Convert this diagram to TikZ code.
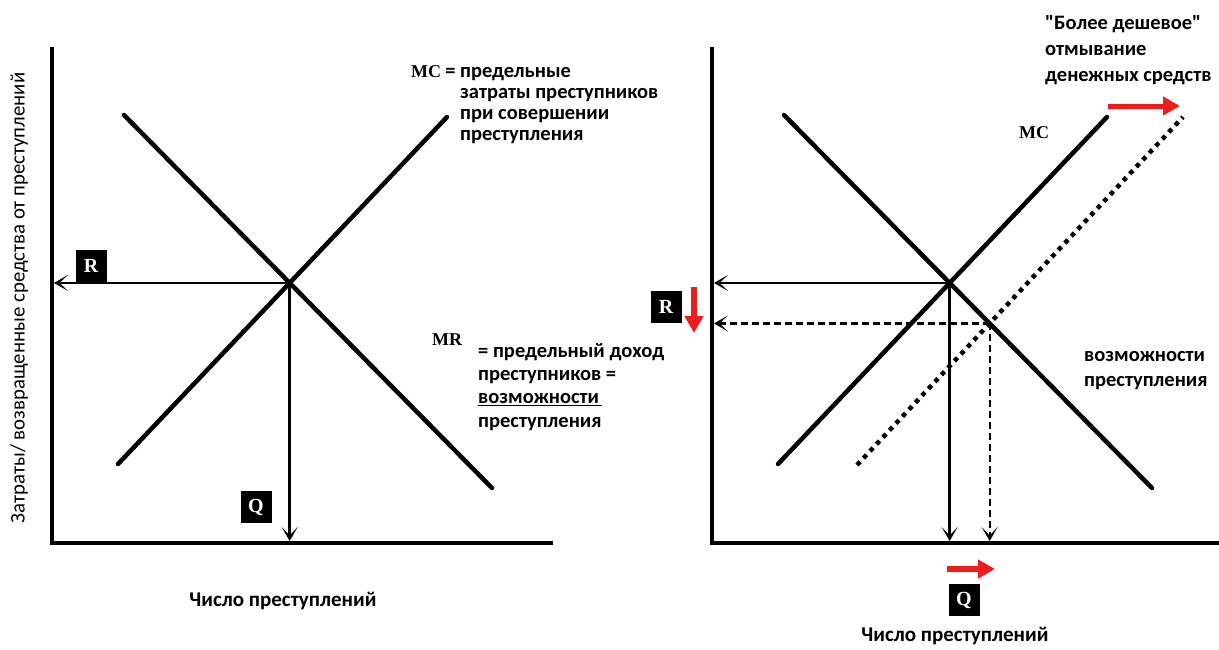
\documentclass[tikz,border=0pt]{standalone}
\usepackage{fontspec}
\setmainfont{Carlito}[Ligatures=TeXOff]
\newfontfamily\curvefont{Liberation Serif}
\usetikzlibrary{positioning, calc, arrows.meta}
\definecolor{shift_red}{HTML}{EE1C1C}

\begin{document}
\begin{tikzpicture}[
    x=1pt, y=-1pt,
    >={Stealth[length=14pt,width=16pt,inset=8.5pt]},
    font=\bfseries\fontsize{21}{21}\selectfont,
    axis/.style={line width=4pt, line join=miter},
    curve/.style={line width=4.5pt, line cap=round},
    shifted/.style={line width=4.5pt, dash pattern=on 4.5pt off 5pt},
    guide/.style={->, line width=2.8pt, shorten >=2pt},
    guide_new/.style={guide, line width=2.4pt, dash pattern=on 7pt off 4pt},
    shift_arrow/.style={draw=shift_red, line width=#1, -{Triangle[length=17pt,width=18pt]}},
    letter/.style={
        fill=black, text=white,
        inner sep=0pt,
        minimum width=31pt, minimum height=32pt,
        font=\curvefont\bfseries\fontsize{20}{20}\selectfont
    },
    curve_label/.style={inner sep=0pt, font=\curvefont\bfseries\fontsize{18}{18}\selectfont},
    note/.style={anchor=base west, align=left, inner sep=0pt},
    axis_label/.style={inner sep=0pt}
]

\useasboundingbox (0,0) rectangle (1219,649);

% left panel
\coordinate (Y1) at (52,47);
\coordinate (O1) at (52,543);
\coordinate (X1) at (553,543);
\coordinate (MRa1) at (124,115);
\coordinate (MRb1) at (492,488);
\coordinate (MCa1) at (118,464);
\coordinate (MCb1) at (447,117);

\draw[axis] (Y1) -- (O1) -- (X1);
\draw[curve] (MRa1) -- (MRb1);
\draw[curve] (MCa1) -- (MCb1);

\coordinate (E1) at (intersection of MRa1--MRb1 and MCa1--MCb1);
\draw[guide] (E1) -- (O1 |- E1);
\draw[guide] (E1) -- (E1 |- O1);

\node[letter] (R1) at (91,266) {R};
\node[letter] (Q1) at (256,507) {Q};

% multi-line notes sit on the baseline of their last line
\node[curve_label] (MC1) at (426,72) {MC};
\node[note, font=\bfseries\fontsize{20.5}{21}\selectfont] (MCtext1) at (460,140) {\llap{= }предельные\\затраты преступников\\при совершении\\преступления};
\node[curve_label] (MR1) at (447,340) {MR};
\node[note, font=\bfseries\fontsize{20.5}{23.3}\selectfont] (MRtext1) at (478,427) {= предельный доход\\преступников =\\\underline{возможности\,}\\преступления};

\node[axis_label, font=\fontsize{20.8}{20.8}\selectfont, rotate=90] (Ylab) at (19,298) {Затраты/ возвращенные средства от преступлений};
\node[axis_label] (Xlab1) at (283,601) {Число преступлений};

% right panel
\coordinate (Y2) at (712,47);
\coordinate (O2) at (712,543);
\coordinate (X2) at (1219,543);
\coordinate (MRa2) at (784,115);
\coordinate (MRb2) at (1152,488);
\coordinate (MCa2) at (778,464);
\coordinate (MCb2) at (1107,117);
\coordinate (Sa2) at (857,465);
\coordinate (Sb2) at (1183,117);

\draw[axis] (Y2) -- (O2) -- (X2);
\draw[curve] (MRa2) -- (MRb2);
\draw[curve] (MCa2) -- (MCb2);
\draw[shifted] (Sa2) -- (Sb2);

\coordinate (E2) at (intersection of MRa2--MRb2 and MCa2--MCb2);
\coordinate (F2) at (intersection of MRa2--MRb2 and Sa2--Sb2);
\draw[guide] (E2) -- (O2 |- E2);
\draw[guide, line width=3.4pt] (E2) -- (E2 |- O2);
\draw[guide_new] (F2) -- (O2 |- F2);
\draw[guide_new, line width=2pt] (F2) -- (F2 |- O2);

\node[letter] (R2) at (666,307) {R};
\node[letter] (Q2) at (964,600) {Q};

\coordinate (RSa) at (694,287);
\coordinate (RSb) at (694,333);
\coordinate (QSa) at (947,569);
\coordinate (QSb) at (995,569);
\coordinate (MSa) at (1108,106);
\coordinate (MSb) at (1180,106);
\draw[shift_arrow=6pt] (RSa) -- (RSb);
\draw[shift_arrow=6pt] (QSa) -- (QSb);
\draw[shift_arrow=5pt] (MSa) -- (MSb);

\node[curve_label] (MC2) at (1034,133) {MC};
\node[note, font=\bfseries\fontsize{20.5}{26}\selectfont] (Cheap) at (1045,81) {"Более дешевое"\\отмывание\\денежных средств};
\node[note, font=\bfseries\fontsize{20.5}{25}\selectfont] (Chance) at (1084,386) {возможности\\преступления};
\node[axis_label] (Xlab2) at (955,636) {Число преступлений};

\end{tikzpicture}
\end{document}
